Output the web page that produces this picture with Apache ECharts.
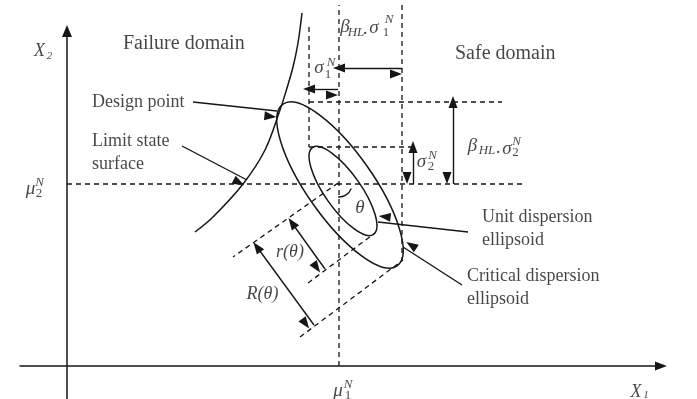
<!DOCTYPE html>
<html>
<head>
<meta charset="utf-8">
<script src="https://cdn.jsdelivr.net/npm/echarts@6/dist/echarts.min.js"></script>
<style>html,body{margin:0;padding:0;background:#fff}#c{width:697px;height:399px}</style>
</head>
<body>
<div id="c"></div>
<script>
// ---------------- diagram data (units: origin at the X1 / X2 axes crossing) ----------------
const meanPoint = [272, 182];                       // (mu1^N, mu2^N)
const limitStateSurface = [[235,353],[231,323],[226,299],[220,278],[213,256],[198,216],[176,182],[146,149],[128,134]];
// cx, cy, semi-major, semi-minor, tilt in degrees
const criticalEllipse = [273, 181, 99, 33, -54.8];
const unitEllipse = [276, 175, 53, 18, -54.8];
// cx, cy, radius, start angle, end angle (screen degrees)
const thetaArc = [272, 182, 13, 20, 94];
const dashedGuides = [
  [[272,0],[272,361]],
  [[0,182],[456,182]],
  [[242,339],[242,219]],
  [[335,361],[335,106]],
  [[242,264],[435,264]],
  [[242,219],[350,219]],
  [[271,183],[166,109]],
  [[241,83],[308,133]],
  [[233,29],[336,106]]
];
const doubleArrows = [
  [[242,277],[271,277]],
  [[272,298],[335,298]],
  [[346,219],[346,182]],
  [[386,264],[386,182]],
  [[225,143],[258,97]],
  [[190,119],[247,41]]
];
const pointerArrows = [
  [[126,264],[210,255]],
  [[115,220],[180,186]],
  [[401,134],[311,144]],
  [[395,81],[336,119]]
];
const domainLabels = ['Failure domain', 'Safe domain'];
const calloutLabels = ['Design point', 'Limit state\nsurface', 'Unit dispersion\nellipsoid', 'Critical dispersion\nellipsoid'];

// ---------------- annotation table (text, x, y, style, align) ----------------
const annotations = [
  [domainLabels[0], 56, 322.5, 'big', 'left'],
  [domainLabels[1], 388, 312.5, 'big', 'left'],
  [calloutLabels[0], 25, 264, 'txt', 'left'],
  [calloutLabels[1], 25, 213, 'txt', 'left'],
  [calloutLabels[2], 415, 137, 'txt', 'left'],
  [calloutLabels[3], 400, 78, 'txt', 'left'],
  // X2
  ['X', -27.5, 314.5, 'ax', 'center'], ['2', -17.5, 309.5, 'axs', 'center'],
  // X1
  ['X', 569, -26, 'ax', 'center'], ['1', 579, -29.5, 'axs', 'center'],
  // mu2^N
  ['μ', -36.5, 177.5, 'mi', 'center'], ['N', -27.5, 183.5, 'sup', 'center'], ['2', -28, 172.5, 'sub', 'center'],
  // mu1^N
  ['μ', 271, -25, 'mi', 'center'], ['N', 281, -19, 'sup', 'center'], ['1', 281, -30, 'sub', 'center'],
  // sigma1^N
  ['σ', 252, 298, 'mi', 'center'], ['N', 264, 303, 'sup', 'center'], ['1', 261, 291.5, 'sub', 'center'],
  // beta_HL . sigma1^N
  ['β', 278, 339, 'mi', 'center'], ['HL', 289, 333.5, 'hl', 'center'], ['.', 298, 336.5, 'mr', 'center'],
  ['σ', 307, 338, 'mi', 'center'], ['N', 322, 346, 'sup', 'center'], ['1', 319, 333.5, 'sub', 'center'],
  // beta_HL . sigma2^N
  ['β', 405.5, 220.5, 'mi', 'center'], ['HL', 420, 215, 'hl', 'center'], ['.', 431, 217.5, 'mr', 'center'],
  ['σ', 440, 217.5, 'mi', 'center'], ['N', 449.5, 224, 'sup', 'center'], ['2', 448.5, 213.5, 'sub', 'center'],
  // sigma2^N
  ['σ', 354.5, 204.5, 'mi', 'center'], ['N', 365.5, 210, 'sup', 'center'], ['2', 364, 199.5, 'sub', 'center'],
  // theta, r(theta), R(theta)
  ['θ', 293, 158, 'mi', 'center'],
  ['r(θ)', 223, 113.5, 'rt', 'center'],
  ['R(θ)', 195.5, 72, 'rt', 'center']
];

const INK = '#161616';
const SERIF = '"Liberation Serif", "Times New Roman", "DejaVu Serif", serif';
const textStyles = {
  big: {fontSize: 20},
  txt: {fontSize: 18, lineHeight: 23},
  ax: {fontSize: 18, fontStyle: 'italic'},
  axs: {fontSize: 11, fontStyle: 'italic'},
  mi: {fontSize: 19, fontStyle: 'italic'},
  mr: {fontSize: 19},
  sup: {fontSize: 13, fontStyle: 'italic'},
  sub: {fontSize: 13},
  hl: {fontSize: 13, fontStyle: 'italic'},
  rt: {fontSize: 18, fontStyle: 'italic'}
};

const chart = echarts.init(document.getElementById('c'));

const dashedSeries = dashedGuides.map(seg => ({
  type: 'line', data: seg, symbol: 'none', clip: false, silent: true, animation: false,
  lineStyle: {color: INK, width: 1.3, type: [5, 4]}, z: 2
}));

const arrowItems = doubleArrows.map(s => [
  {coord: s[0], symbol: 'triangle'}, {coord: s[1], symbol: 'triangle'}
]).concat(pointerArrows.map(s => [
  {coord: s[0], symbol: 'none'}, {coord: s[1], symbol: 'triangle'}
]));

const option = {
  animation: false,
  backgroundColor: '#ffffff',
  grid: {left: 20, right: 36, top: 31, bottom: 0, containLabel: false, outerBoundsMode: 'none'},
  xAxis: {
    type: 'value', min: -47, max: 594,
    axisLine: {onZero: true, symbol: ['none', 'triangle'], symbolSize: [9, 12], lineStyle: {color: INK, width: 1.5}},
    axisTick: {show: false}, axisLabel: {show: false}, splitLine: {show: false}
  },
  yAxis: {
    type: 'value', min: -33, max: 335,
    axisLine: {onZero: true, symbol: ['none', 'triangle'], symbolSize: [10, 12], lineStyle: {color: INK, width: 1.5}},
    axisTick: {show: false}, axisLabel: {show: false}, splitLine: {show: false}
  },
  series: dashedSeries.concat([
    {
      type: 'line', name: 'Limit state surface', data: limitStateSurface, smooth: 0.35,
      symbol: 'none', clip: false, silent: true, animation: false,
      lineStyle: {color: INK, width: 1.5}, z: 3,
      markLine: {
        silent: true, animation: false, symbolSize: [9, 12], symbolOffset: [0, 6],
        label: {show: false},
        lineStyle: {color: INK, width: 1.4, type: 'solid'},
        emphasis: {disabled: true},
        data: arrowItems
      }
    },
    {
      type: 'custom', coordinateSystem: 'cartesian2d', data: [criticalEllipse, unitEllipse],
      silent: true, animation: false, clip: false, encode: {x: 0, y: 1}, z: 3,
      renderItem(params, api) {
        const c = api.coord([api.value(0), api.value(1)]);
        const rx = api.size([api.value(2), 0])[0];
        const ry = api.size([0, api.value(3)])[1];
        return {
          type: 'ellipse', x: c[0], y: c[1], rotation: api.value(4) * Math.PI / 180,
          shape: {cx: 0, cy: 0, rx: rx, ry: ry},
          style: {fill: 'none', stroke: INK, lineWidth: 1.5}
        };
      }
    },
    {
      type: 'custom', coordinateSystem: 'cartesian2d', data: [thetaArc],
      silent: true, animation: false, clip: false, encode: {x: 0, y: 1}, z: 3,
      renderItem(params, api) {
        const c = api.coord([api.value(0), api.value(1)]);
        const r = api.size([api.value(2), 0])[0];
        return {
          type: 'arc',
          shape: {cx: c[0], cy: c[1], r: r, startAngle: api.value(3) * Math.PI / 180, endAngle: api.value(4) * Math.PI / 180, clockwise: true},
          style: {fill: 'none', stroke: INK, lineWidth: 1.3}
        };
      }
    },
    {
      type: 'scatter', symbolSize: 0, clip: false, silent: true, animation: false, z: 5,
      data: annotations.map(a => ({
        value: [a[1], a[2]],
        label: Object.assign({
          show: true, position: 'inside', formatter: a[0], color: INK, fontFamily: SERIF,
          align: a[4], verticalAlign: 'middle'
        }, textStyles[a[3]])
      }))
    }
  ])
};
chart.setOption(option);
</script>
</body>
</html>
